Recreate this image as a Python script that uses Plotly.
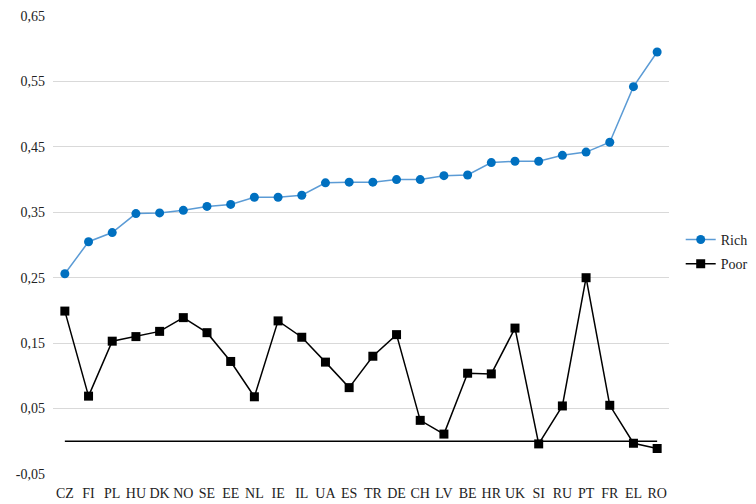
import plotly.graph_objects as go

countries = ["CZ", "FI", "PL", "HU", "DK", "NO", "SE", "EE", "NL", "IE", "IL", "UA", "ES",
             "TR", "DE", "CH", "LV", "BE", "HR", "UK", "SI", "RU", "PT", "FR", "EL", "RO"]
rich = [0.256, 0.305, 0.319, 0.348, 0.349, 0.353, 0.359, 0.362, 0.373, 0.373, 0.376, 0.395, 0.396,
        0.396, 0.400, 0.400, 0.406, 0.407, 0.426, 0.428, 0.428, 0.437, 0.442, 0.457, 0.542, 0.595]
poor = [0.199, 0.069, 0.153, 0.160, 0.168, 0.189, 0.166, 0.122, 0.068, 0.184, 0.159, 0.121, 0.082,
        0.130, 0.163, 0.032, 0.011, 0.104, 0.103, 0.173, -0.004, 0.054, 0.250, 0.055, -0.003, -0.011]
zero = [0.0] * len(countries)
y_tickvals = [-0.05, 0.05, 0.15, 0.25, 0.35, 0.45, 0.55, 0.65]
y_ticktext = ["-0,05", "0,05", "0,15", "0,25", "0,35", "0,45", "0,55", "0,65"]

font_family = "Liberation Serif"
text_color = "#222222"

fig = go.Figure()
fig.add_trace(go.Scatter(x=countries, y=zero, mode="lines", showlegend=False,
                         line=dict(color="black", width=1.5), hoverinfo="skip"))
fig.add_trace(go.Scatter(x=countries, y=rich, mode="lines+markers", name="Rich", legendgroup="rich",
                         line=dict(color="#5b9bd5", width=1.5),
                         marker=dict(symbol="circle", size=9, color="#0070c0")))
fig.add_trace(go.Scatter(x=countries, y=poor, mode="lines+markers", name="Poor", legendgroup="poor",
                         line=dict(color="black", width=1.5),
                         marker=dict(symbol="square", size=9, color="black")))

fig.update_layout(
    width=748, height=496,
    margin=dict(l=45, r=87, t=8, b=30, autoexpand=False),
    plot_bgcolor="white", paper_bgcolor="white",
    font=dict(family=font_family, size=14, color=text_color),
    showlegend=True,
    legend=dict(x=1.019, y=0.485, xanchor="left", yanchor="middle",
                font=dict(size=14, family=font_family, color=text_color),
                bgcolor="rgba(0,0,0,0)", traceorder="grouped", tracegroupgap=3),
    xaxis=dict(type="category", showgrid=False, showline=False, ticks="", automargin=False,
               tickangle=0, tickfont=dict(size=14), ticklabelstandoff=9,
               range=[-0.5, len(countries) - 0.5]),
    yaxis=dict(range=[-0.05, 0.65], tickvals=y_tickvals, ticktext=y_ticktext, automargin=False,
               showgrid=True, gridcolor="#d9d9d9", gridwidth=1, zeroline=False,
               showline=False, ticks="", tickfont=dict(size=14), ticklabelstandoff=7),
)

fig.write_html("out.html")
